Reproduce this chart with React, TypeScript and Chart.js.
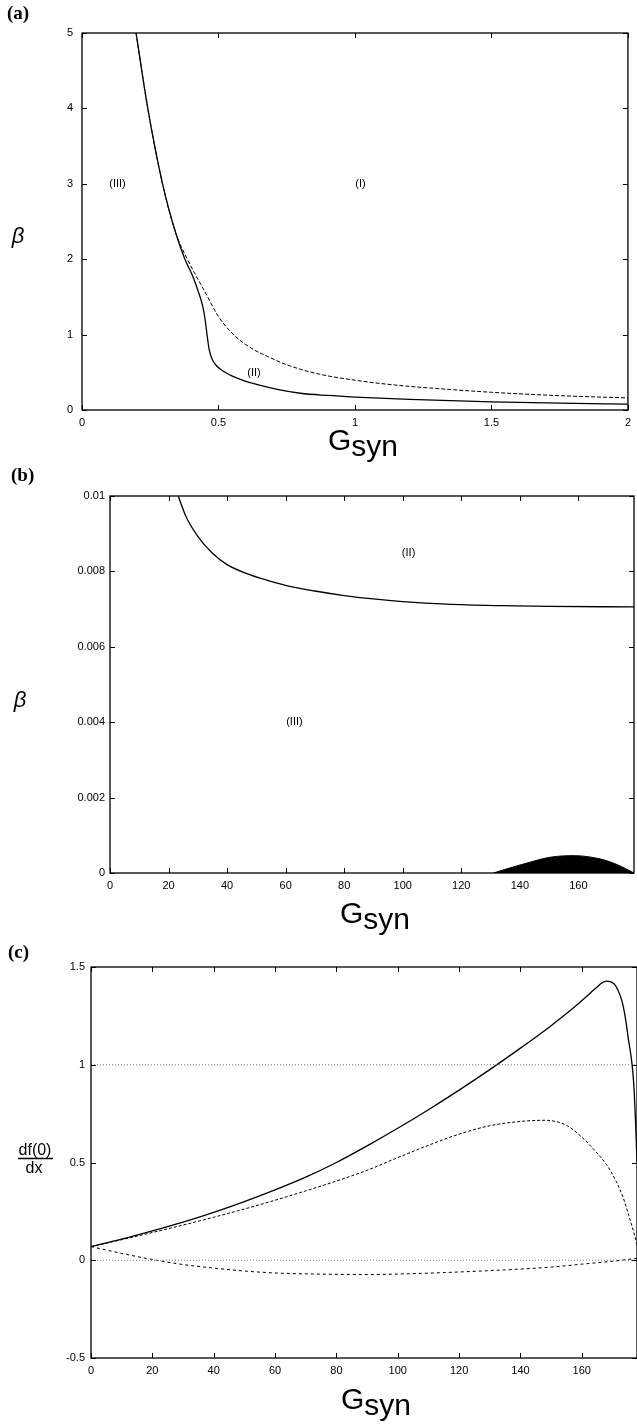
import React, { useEffect, useRef } from "react";
import { Chart, registerables } from "chart.js";

Chart.register(...registerables);

const W = 637;
const H = 1424;
const FONT = '"Liberation Sans", Arial, Helvetica, sans-serif';

// ---------- Panel (a) ----------
const aXTicks = [0, 0.5, 1, 1.5, 2];
const aYTicks = [0, 1, 2, 3, 4, 5];
const aSolidG = [0.198, 0.241, 0.295, 0.344, 0.377, 0.405, 0.428, 0.442, 0.451, 0.458, 0.466, 0.476, 0.492, 0.515, 0.545, 0.585, 0.65, 0.72, 0.8, 0.9, 1.0, 1.2, 1.5, 1.75, 2.0];
const aSolidBeta = [5, 4, 3, 2.34, 2, 1.78, 1.55, 1.38, 1.2, 1.0, 0.8, 0.68, 0.59, 0.52, 0.46, 0.4, 0.33, 0.27, 0.222, 0.193, 0.172, 0.14, 0.108, 0.09, 0.078];
const aDashG = [0.198, 0.241, 0.295, 0.344, 0.386, 0.453, 0.5, 0.555, 0.62, 0.68, 0.75, 0.864, 1.0, 1.15, 1.3, 1.5, 1.75, 2.0];
const aDashBeta = [5, 4, 3, 2.34, 2, 1.55, 1.24, 1.0, 0.82, 0.71, 0.6, 0.48, 0.395, 0.33, 0.285, 0.235, 0.19, 0.16];
const aRegionText = ["(III)", "(I)", "(II)"];
const aRegionG = [0.13, 1.02, 0.63];
const aRegionBeta = [3, 3, 0.49];

// ---------- Panel (b) ----------
const bXTicks = [0, 20, 40, 60, 80, 100, 120, 140, 160];
const bYTicks = [0, 0.002, 0.004, 0.006, 0.008, 0.01];
const bCurveG = [23.3, 26, 30, 35, 40, 46.5, 53, 60, 70, 80, 90, 100, 115, 133, 150, 179];
const bCurveBeta = [0.01, 0.00945, 0.00893, 0.00848, 0.00818, 0.00795, 0.00778, 0.00763, 0.00748, 0.00736, 0.00727, 0.0072, 0.00713, 0.00709, 0.00707, 0.00706];
const bHumpG = [131, 136, 141.3, 150.5, 158.5, 167.6, 173.3, 176, 179];
const bHumpBeta = [0, 0.00012, 0.00024, 0.00042, 0.00046, 0.00037, 0.00022, 0.00012, 0];
const bRegionText = ["(II)", "(III)"];
const bRegionG = [102, 63];
const bRegionBeta = [0.0085, 0.004];

// ---------- Panel (c) ----------
const cXTicks = [0, 20, 40, 60, 80, 100, 120, 140, 160];
const cYTicks = [-0.5, 0, 0.5, 1, 1.5];
const cRefLevels = [0, 1];
const cSolidG = [0, 10, 20, 30, 40, 50, 60, 70, 80, 90, 100, 110, 120, 130, 140, 150, 158, 163, 165, 166.5, 168, 169.5, 171, 172.5, 173.5, 174.5, 175.2, 176, 176.6, 177.1, 177.6, 178];
const cSolidV = [0.07, 0.108, 0.15, 0.195, 0.245, 0.3, 0.36, 0.425, 0.5, 0.585, 0.675, 0.77, 0.87, 0.975, 1.085, 1.2, 1.3, 1.37, 1.398, 1.418, 1.428, 1.424, 1.405, 1.355, 1.3, 1.21, 1.13, 1.05, 0.97, 0.86, 0.68, 0.5];
const cUpperG = [0, 10, 20, 30, 40, 50, 60, 70, 80, 90, 100, 110, 120, 130, 140, 148, 155, 160, 164, 168, 171, 173.5, 175.5, 177, 178];
const cUpperV = [0.07, 0.105, 0.142, 0.18, 0.22, 0.262, 0.307, 0.355, 0.405, 0.46, 0.525, 0.588, 0.645, 0.688, 0.71, 0.716, 0.69, 0.63, 0.565, 0.49, 0.41, 0.32, 0.22, 0.14, 0.08];
const cLowerG = [0, 10, 21.4, 30, 40, 50, 60, 75, 90, 106, 120, 139, 150, 160, 170, 178];
const cLowerV = [0.07, 0.035, 0, -0.022, -0.04, -0.055, -0.065, -0.071, -0.073, -0.068, -0.06, -0.046, -0.035, -0.02, -0.005, 0.01];

const zip = (xs: number[], ys: number[]) => xs.map((x, i) => ({ x, y: ys[i] }));

type Txt = { text: string; x: number; y: number; font: string; align?: CanvasTextAlign; base?: CanvasTextBaseline };

type Spec = {
  left: number; right: number; top: number; bottom: number;
  xMin: number; xMax: number; yMin: number; yMax: number;
  xTicks: number[]; yTicks: number[]; yPad: number;
  datasets: any[];
  regions: { text: string; x: number; y: number }[];
  texts: Txt[];
  gsyn: { cx: number; base: number };
  frac?: boolean;
};

function drawGsyn(ctx: CanvasRenderingContext2D, cx: number, base: number) {
  ctx.font = `30px ${FONT}`;
  ctx.textAlign = "left";
  ctx.textBaseline = "alphabetic";
  const wG = ctx.measureText("G").width;
  const wS = ctx.measureText("syn").width;
  const x0 = cx - (wG + wS) / 2;
  ctx.fillText("G", x0, base);
  ctx.fillText("syn", x0 + wG, base + 6);
}

function makeChart(canvas: HTMLCanvasElement, s: Spec) {
  const decor = {
    id: "decor",
    afterDraw(chart: any) {
      const ctx: CanvasRenderingContext2D = chart.ctx;
      const a = chart.chartArea;
      const xs = chart.scales.x;
      const ys = chart.scales.y;
      ctx.save();
      ctx.strokeStyle = "#000";
      ctx.lineWidth = 1.3;
      ctx.strokeRect(a.left, a.top, a.right - a.left, a.bottom - a.top);
      ctx.lineWidth = 1;
      const tl = 5;
      ctx.beginPath();
      s.xTicks.forEach((v) => {
        const px = Math.round(xs.getPixelForValue(v)) + 0.5;
        ctx.moveTo(px, a.bottom);
        ctx.lineTo(px, a.bottom - tl);
        ctx.moveTo(px, a.top);
        ctx.lineTo(px, a.top + tl);
      });
      s.yTicks.forEach((v) => {
        const py = Math.round(ys.getPixelForValue(v)) + 0.5;
        ctx.moveTo(a.left, py);
        ctx.lineTo(a.left + tl, py);
        ctx.moveTo(a.right, py);
        ctx.lineTo(a.right - tl, py);
      });
      ctx.stroke();
      ctx.fillStyle = "#000";
      ctx.font = `11px ${FONT}`;
      ctx.textAlign = "center";
      ctx.textBaseline = "middle";
      s.regions.forEach((r) => {
        ctx.fillText(r.text, xs.getPixelForValue(r.x), ys.getPixelForValue(r.y));
      });
      s.texts.forEach((t) => {
        ctx.font = t.font;
        ctx.textAlign = t.align || "left";
        ctx.textBaseline = t.base || "alphabetic";
        ctx.fillText(t.text, t.x, t.y);
      });
      drawGsyn(ctx, s.gsyn.cx, s.gsyn.base);
      if (s.frac) {
        ctx.font = `16px ${FONT}`;
        ctx.textAlign = "center";
        ctx.textBaseline = "alphabetic";
        ctx.fillText("df(0)", 35, 1155);
        ctx.fillText("dx", 34, 1173);
        ctx.lineWidth = 1.5;
        ctx.beginPath();
        ctx.moveTo(18, 1158.5);
        ctx.lineTo(53, 1158.5);
        ctx.stroke();
      }
      ctx.restore();
    },
  };
  const tickFont = { family: FONT, size: 11 };
  return new Chart(canvas, {
    type: "scatter",
    data: { datasets: s.datasets },
    options: {
      responsive: false,
      animation: false,
      devicePixelRatio: 1,
      events: [],
      elements: { point: { radius: 0 } },
      layout: { padding: { left: s.left - 50, right: W - s.right, top: s.top, bottom: H - s.bottom - 30 } },
      plugins: { legend: { display: false }, tooltip: { enabled: false } },
      scales: {
        x: {
          type: "linear",
          min: s.xMin,
          max: s.xMax,
          grid: { display: false, drawTicks: false },
          border: { display: false },
          ticks: { font: tickFont, color: "#000", padding: 6, maxRotation: 0, autoSkip: false, callback: (v: any) => String(v) },
          afterBuildTicks: (sc: any) => { sc.ticks = s.xTicks.map((v) => ({ value: v })); },
          afterFit: (sc: any) => { sc.height = 30; },
        },
        y: {
          type: "linear",
          min: s.yMin,
          max: s.yMax,
          grid: { display: false, drawTicks: false },
          border: { display: false },
          ticks: { font: tickFont, color: "#000", padding: s.yPad, autoSkip: false, callback: (v: any) => String(v) },
          afterBuildTicks: (sc: any) => { sc.ticks = s.yTicks.map((v) => ({ value: v })); },
          afterFit: (sc: any) => { sc.width = 50; },
        },
      },
    } as any,
    plugins: [decor],
  });
}

const line = (data: any[], width: number, dash: number[] = [], color = "#000") => ({
  data,
  showLine: true,
  borderColor: color,
  borderWidth: width,
  borderDash: dash,
  pointRadius: 0,
  fill: false,
  cubicInterpolationMode: "monotone",
});

const specA: Spec = {
  left: 82, right: 633, top: 33, bottom: 410,
  xMin: 0, xMax: 2, yMin: 0, yMax: 5,
  xTicks: aXTicks, yTicks: aYTicks, yPad: 9,
  datasets: [line(zip(aDashG, aDashBeta), 1, [4, 2]), line(zip(aSolidG, aSolidBeta), 1.3)],
  regions: aRegionText.map((t, i) => ({ text: t, x: aRegionG[i], y: aRegionBeta[i] })),
  texts: [
    { text: "(a)", x: 7, y: 19, font: `bold 19px "Liberation Serif", "Times New Roman", serif` },
    { text: "β", x: 18, y: 237, font: `italic 22px ${FONT}`, align: "center", base: "middle" },
  ],
  gsyn: { cx: 363, base: 450 },
};

const specB: Spec = {
  left: 110, right: 634, top: 496, bottom: 873,
  xMin: 0, xMax: 179, yMin: 0, yMax: 0.01,
  xTicks: bXTicks, yTicks: bYTicks, yPad: 5,
  datasets: [
    line(zip(bCurveG, bCurveBeta), 1.3),
    { ...line(zip(bHumpG, bHumpBeta), 1), fill: "origin", backgroundColor: "#000" },
  ],
  regions: bRegionText.map((t, i) => ({ text: t, x: bRegionG[i], y: bRegionBeta[i] })),
  texts: [
    { text: "(b)", x: 11, y: 481, font: `bold 19px "Liberation Serif", "Times New Roman", serif` },
    { text: "β", x: 20, y: 701, font: `italic 22px ${FONT}`, align: "center", base: "middle" },
  ],
  gsyn: { cx: 375, base: 923 },
};

const specC: Spec = {
  left: 91, right: 637, top: 967, bottom: 1358,
  xMin: 0, xMax: 178, yMin: -0.5, yMax: 1.5,
  xTicks: cXTicks, yTicks: cYTicks, yPad: 6,
  datasets: [
    ...cRefLevels.map((lv) => line([{ x: 0, y: lv }, { x: 178, y: lv }], 1, [1, 2], "#777")),
    line(zip(cLowerG, cLowerV), 1, [3, 3]),
    line(zip(cUpperG, cUpperV), 1, [3, 2]),
    line(zip(cSolidG, cSolidV), 1.3),
  ],
  regions: [],
  texts: [
    { text: "(c)", x: 8, y: 958, font: `bold 19px "Liberation Serif", "Times New Roman", serif` },
  ],
  gsyn: { cx: 376, base: 1409 },
  frac: true,
};

export default function App() {
  const ra = useRef<HTMLCanvasElement>(null);
  const rb = useRef<HTMLCanvasElement>(null);
  const rc = useRef<HTMLCanvasElement>(null);
  useEffect(() => {
    const charts = [
      makeChart(ra.current!, specA),
      makeChart(rb.current!, specB),
      makeChart(rc.current!, specC),
    ];
    return () => charts.forEach((c) => c.destroy());
  }, []);
  const st: React.CSSProperties = { position: "absolute", left: 0, top: 0, width: W, height: H };
  return (
    <div style={{ position: "absolute", left: 0, top: 0, width: W, height: H, background: "#fff" }}>
      <canvas ref={ra} width={W} height={H} style={st} />
      <canvas ref={rb} width={W} height={H} style={st} />
      <canvas ref={rc} width={W} height={H} style={st} />
    </div>
  );
}
